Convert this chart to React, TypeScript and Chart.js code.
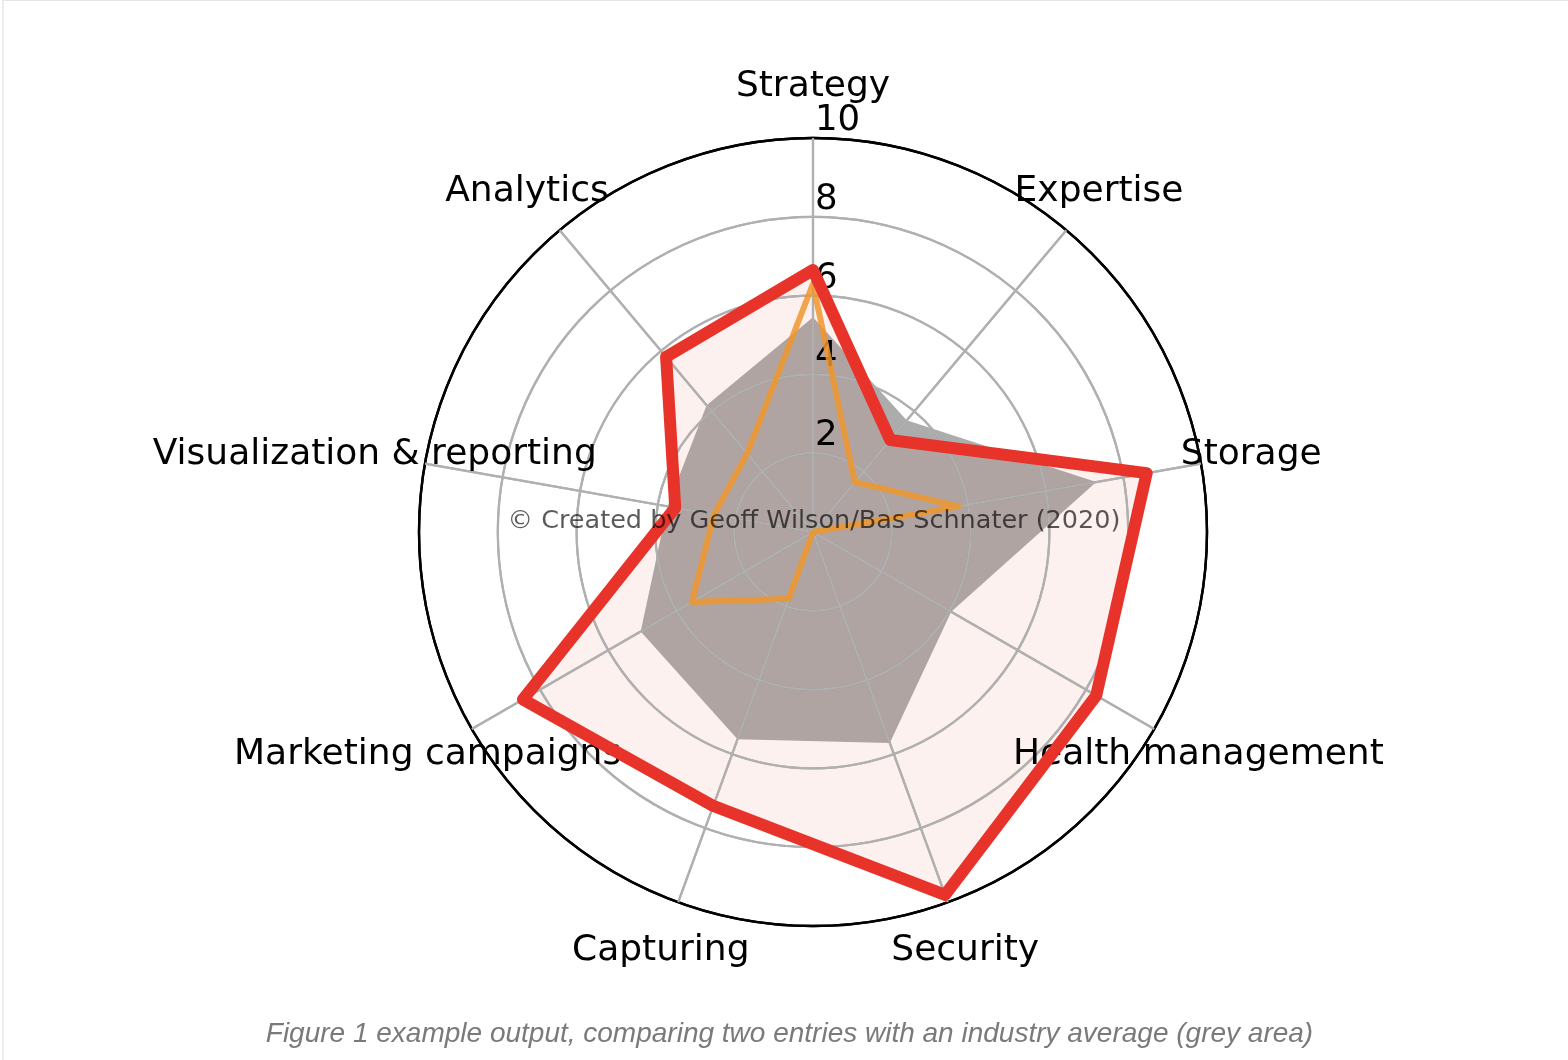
import React, { useEffect, useRef } from 'react';
import { Chart, registerables } from 'chart.js';

Chart.register(...registerables);

// ---- data ----
const categories = [
  'Strategy',
  'Expertise',
  'Storage',
  'Health management',
  'Security',
  'Capturing',
  'Marketing campaigns',
  'Visualization & reporting',
  'Analytics',
];
const industryAverage = [5.45, 3.7, 7.3, 4.05, 5.7, 5.6, 5.05, 3.75, 4.2];
const entryOne = [6.3, 1.65, 3.75, 0, 0, 1.8, 3.55, 2.55, 2.6];
const entryTwo = [6.65, 3.05, 8.6, 8.3, 9.8, 7.4, 8.5, 3.55, 5.8];
const radialTicks = [0, 2, 4, 6, 8, 10];
const watermark = '© Created by Geoff Wilson/Bas Schnater (2020)';
const caption = 'Figure 1 example output, comparing two entries with an industry average (grey area)';

const FIRST_LINE_INDEX = 2;

export default function App() {
  const canvasRef = useRef<HTMLCanvasElement>(null);

  useEffect(() => {
    const canvas = canvasRef.current;
    if (!canvas) return;

    const overlay = {
      id: 'overlay',
      beforeDatasetDraw(chart: any, args: any) {
        if (args.index !== FIRST_LINE_INDEX) return;
        const s: any = chart.scales.r;
        const ctx = chart.ctx;
        // grid above the filled areas, below the lines (matplotlib axisbelow='line')
        ctx.save();
        s.drawGrid(chart.chartArea);
        ctx.restore();

        ctx.save();
        ctx.fillStyle = '#000000';
        ctx.font = '35.5px "DejaVu Sans"';
        ctx.textAlign = 'left';
        ctx.textBaseline = 'alphabetic';
        s.ticks.forEach((t: any) => {
          if (t.value <= 0) return;
          const d = s.getDistanceFromCenterForValue(t.value);
          ctx.fillText(String(t.value), s.xCenter + 2, s.yCenter - d - 8);
        });
        ctx.font = '36px "DejaVu Sans"';
        ctx.textAlign = 'center';
        categories.forEach((lab, i) => {
          const p = s.getPointPosition(i, s.drawingArea + 51);
          ctx.fillText(lab, p.x, p.y + 9.4);
        });
        ctx.restore();
      },
      afterDraw(chart: any) {
        const s: any = chart.scales.r;
        const ctx = chart.ctx;
        ctx.save();
        ctx.font = '25.5px "DejaVu Sans"';
        ctx.fillStyle = 'rgba(0,0,0,0.65)';
        ctx.textAlign = 'center';
        ctx.textBaseline = 'alphabetic';
        ctx.fillText(watermark, s.xCenter + 1, s.yCenter - 4);
        ctx.restore();
      },
    };

    const chart = new Chart(canvas, {
      type: 'radar',
      data: {
        labels: categories,
        datasets: [
          {
            label: 'Industry average',
            data: industryAverage,
            fill: true,
            backgroundColor: 'rgba(128,128,128,0.65)',
            borderColor: 'transparent',
            borderWidth: 0,
            pointRadius: 0,
            pointHoverRadius: 0,
            order: 5,
          },
          {
            label: 'Entry 2 area',
            data: entryTwo,
            fill: true,
            backgroundColor: 'rgba(232,51,39,0.07)',
            borderColor: 'transparent',
            borderWidth: 0,
            pointRadius: 0,
            pointHoverRadius: 0,
            order: 4,
          },
          {
            label: 'Entry 1',
            data: entryOne,
            fill: false,
            borderColor: 'rgba(238,150,45,0.85)',
            borderWidth: 6,
            borderJoinStyle: 'round',
            pointRadius: 0,
            pointHoverRadius: 0,
            order: 2,
          },
          {
            label: 'Entry 2',
            data: entryTwo,
            fill: false,
            borderColor: '#e8332a',
            borderWidth: 12,
            borderJoinStyle: 'round',
            pointRadius: 0,
            pointHoverRadius: 0,
            order: 1,
          },
        ],
      } as any,
      options: {
        responsive: false,
        animation: false,
        layout: { padding: { left: 419, right: 360, top: 138, bottom: 133 } },
        plugins: {
          legend: { display: false },
          tooltip: { enabled: false },
        },
        elements: { line: { tension: 0 } },
        scales: {
          r: {
            min: 0,
            max: 10,
            startAngle: 0,
            afterBuildTicks: (s: any) => {
              s.ticks = radialTicks.map((v) => ({ value: v }));
            },
            ticks: { display: false, stepSize: 2 },
            pointLabels: { display: false },
            grid: {
              circular: true,
              color: (c: any) => (c.tick && c.tick.value === 10 ? '#000000' : '#b0b0b0'),
              lineWidth: (c: any) => (c.tick && c.tick.value === 10 ? 2.4 : 2.2),
            },
            angleLines: { display: true, color: '#b0b0b0', lineWidth: 2.2 },
          },
        },
      } as any,
      plugins: [overlay],
    });

    return () => chart.destroy();
  }, []);

  return (
    <div
      style={{
        position: 'fixed',
        left: 0,
        top: 0,
        width: 1568,
        height: 1060,
        background: '#ffffff',
        overflow: 'hidden',
      }}
    >
      <div
        style={{
          position: 'absolute',
          left: 2,
          top: 0,
          width: 1600,
          height: 1100,
          borderTop: '1px solid #e6e6e6',
          borderLeft: '2px solid #ededed',
          boxSizing: 'border-box',
        }}
      />
      <canvas
        ref={canvasRef}
        width={1568}
        height={1060}
        style={{ position: 'absolute', left: 0, top: 0, display: 'block' }}
      />
      <div
        style={{
          position: 'absolute',
          left: 0,
          top: 1019,
          width: 1579,
          textAlign: 'center',
          font: 'italic 28px "Liberation Sans", Arial, sans-serif',
          lineHeight: '28px',
          color: '#7a7a7a',
          whiteSpace: 'nowrap',
        }}
      >
        {caption}
      </div>
    </div>
  );
}
